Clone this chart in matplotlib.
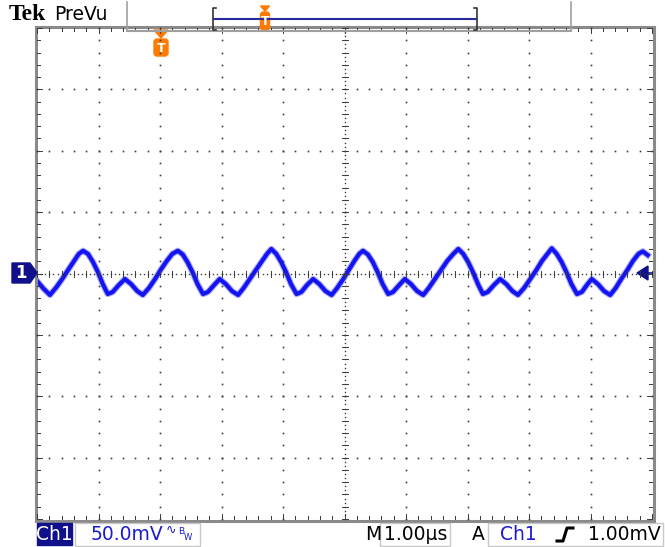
import numpy as np
import matplotlib
matplotlib.use("Agg")
import matplotlib.pyplot as plt
from matplotlib.patches import Rectangle, Polygon, FancyBboxPatch

# ---------------- data (time in µs, voltage in mV) ----------------
trace_t = [0.00, 0.10, 0.21, 0.31, 0.41, 0.50, 0.60, 0.68,
           0.75, 0.83, 0.91, 0.99, 1.07, 1.15, 1.23, 1.33, 1.43, 1.53, 1.63, 1.72, 1.82, 1.92, 2.01, 2.11, 2.20,
           2.29, 2.37, 2.45, 2.53, 2.61, 2.70, 2.78, 2.88, 2.97, 3.07, 3.17, 3.27, 3.36, 3.46, 3.56, 3.66, 3.74,
           3.81, 3.89, 3.97, 4.05, 4.13, 4.22, 4.30, 4.39, 4.49, 4.59, 4.69, 4.79, 4.88, 4.98, 5.07, 5.16, 5.24,
           5.30, 5.38, 5.46, 5.54, 5.62, 5.71, 5.79, 5.89, 5.98, 6.08, 6.18, 6.28, 6.37, 6.47, 6.57, 6.67, 6.77,
           6.85, 6.93, 7.01, 7.09, 7.17, 7.25, 7.33, 7.43, 7.53, 7.63, 7.73, 7.82, 7.92, 8.02, 8.12, 8.21, 8.30,
           8.37, 8.45, 8.53, 8.61, 8.69, 8.78, 8.86, 8.94, 9.02, 9.12, 9.22, 9.32, 9.41, 9.50, 9.60, 9.69, 9.78,
           9.85, 9.93]
trace_mv = [-6.0, -12.0, -17.5, -11.5, -4.5, 2.5, 10.0, 16.0,
            18.5, 15.9, 9.4, 1.2, -8.6, -16.7, -15.1, -9.4, -4.5, -8.6, -14.3, -17.5, -11.8, -4.5, 2.9, 10.2, 16.0,
            18.5, 15.5, 9.0, 1.0, -8.6, -16.7, -15.0, -9.4, -4.5, -8.6, -14.3, -17.5, -11.8, -4.5, 2.9, 10.2, 16.0,
            20.0, 16.0, 9.4, 1.0, -8.6, -16.7, -15.0, -9.4, -4.5, -8.6, -14.3, -17.5, -11.8, -4.5, 2.9, 10.2, 16.0,
            18.5, 15.5, 9.4, 1.0, -8.6, -16.7, -15.0, -9.4, -4.5, -8.6, -14.3, -17.5, -11.8, -4.5, 2.9, 10.2, 16.0,
            20.0, 16.0, 9.4, 1.0, -8.6, -16.7, -15.0, -9.4, -4.5, -8.6, -14.3, -17.5, -11.8, -4.5, 2.9, 10.2, 16.0,
            20.5, 16.0, 9.4, 1.0, -8.6, -16.7, -15.0, -9.4, -4.5, -8.6, -14.3, -17.5, -11.8, -4.5, 2.9, 10.2, 16.0,
            18.0, 15.0]

brand = "Tek"
mode_label = "PreVu"
ch_label = "Ch1"
volts_div = "50.0mV"
time_div = "1.00µs"
trig_src = "Ch1"
trig_level = "1.00mV"

# ---------------- geometry ----------------
W, H = 665, 547
L, R, T, B = 37, 652, 28, 519      # graticule in pixels
NX, NY = 10, 8
XMAX, YHALF = 10.0, 200.0

fig = plt.figure(figsize=(W / 100, H / 100), dpi=100)
fig.patch.set_facecolor("white")

ax = fig.add_axes([L / W, 1 - B / H, (R - L) / W, (B - T) / H])
ax.set_xlim(0, XMAX)
ax.set_ylim(-YHALF, YHALF)
ax.axis("off")

ov = fig.add_axes([0, 0, 1, 1], zorder=5)
ov.set_xlim(0, W)
ov.set_ylim(H, 0)
ov.axis("off")
ov.patch.set_alpha(0)

dx = (R - L) / NX
dy = (B - T) / NY
dot = "#3a3a3a"

def px(xdiv):
    return L + xdiv * dx

def py(ydiv):
    return T + ydiv * dy

# grid dots along major lines
for i in range(1, NX):
    if i == NX // 2:
        continue
    ys = np.arange(0, NY + 0.001, 0.2)
    ov.plot([px(i)] * len(ys), [py(y) for y in ys], ls="none", marker="s", ms=1.2, color=dot, mew=0)
for j in range(1, NY):
    if j == NY // 2:
        continue
    xs = np.arange(0, NX + 0.001, 0.2)
    ov.plot([px(x) for x in xs], [py(j)] * len(xs), ls="none", marker="s", ms=1.2, color=dot, mew=0)

# center cross: dense dots + minor ticks
xs = np.arange(0, NX + 0.001, 0.2 / 3)
ov.plot([px(x) for x in xs], [py(NY / 2)] * len(xs), ls="none", marker="s", ms=1.0, color=dot, mew=0)
ys = np.arange(0, NY + 0.001, 0.2 / 3)
ov.plot([px(NX / 2)] * len(ys), [py(y) for y in ys], ls="none", marker="s", ms=1.0, color=dot, mew=0)
for x in np.arange(0, NX + 0.001, 0.2):
    ov.plot([px(x), px(x)], [py(NY / 2) - 3, py(NY / 2) + 3], color=dot, lw=0.7)
for y in np.arange(0, NY + 0.001, 0.2):
    ov.plot([px(NX / 2) - 3, px(NX / 2) + 3], [py(y), py(y)], color=dot, lw=0.7)

# edge ruler ticks
for x in np.arange(0, NX + 0.001, 0.2):
    ln = 5 if abs(x - round(x)) < 1e-6 else 3
    ov.plot([px(x), px(x)], [T, T + ln], color=dot, lw=0.7)
    ov.plot([px(x), px(x)], [B, B - ln], color=dot, lw=0.7)
for y in np.arange(0, NY + 0.001, 0.2):
    ln = 5 if abs(y - round(y)) < 1e-6 else 3
    ov.plot([L, L + ln], [py(y), py(y)], color=dot, lw=0.7)
    ov.plot([R, R - ln], [py(y), py(y)], color=dot, lw=0.7)

# border
ov.add_patch(Rectangle((L - 1.5, T - 1.5), R - L + 3, B - T + 3, fill=False,
                       edgecolor="#8a8a8a", lw=2.2))

# trace
ax.plot(trace_t, trace_mv, color="#4a4aff", lw=4.6, alpha=0.45, solid_joinstyle="round", zorder=3)
ax.plot(trace_t, trace_mv, color="#1414f0", lw=3.0, solid_joinstyle="round", zorder=4)

# ---------- markers ----------
navy = "#10108c"
orange = "#ff7a00"
# channel 1 ground marker
ov.add_patch(Polygon([[12, 263], [30, 263], [37, 273], [30, 283], [12, 283]], closed=True,
                     facecolor=navy, edgecolor=navy))
ov.text(21, 273.5, "1", color="white", fontsize=12, fontweight="bold", ha="center", va="center",
        family="DejaVu Sans")
# trigger level marker (right)
ov.add_patch(Polygon([[637, 273], [648, 266], [648, 280]], closed=True, facecolor=navy, edgecolor=navy))
ov.plot([644, 652], [273, 273], color=navy, lw=1.2)

def trig_marker(xc, ytop, ysh0, ysh1, wid):
    ov.add_patch(Polygon([[xc - wid / 2, ytop], [xc + wid / 2, ytop], [xc, ysh0 - 1]], closed=True,
                         facecolor=orange, edgecolor=orange))
    ov.add_patch(FancyBboxPatch((xc - wid / 2, ysh0), wid, ysh1 - ysh0,
                                boxstyle="round,pad=0,rounding_size=3", facecolor=orange, edgecolor=orange))
    ov.text(xc, (ysh0 + ysh1) / 2 + 0.5, "T", color="white", fontsize=9, fontweight="bold",
            ha="center", va="center", family="DejaVu Sans")

trig_marker(161, 30, 39, 56, 14)

# ---------- top bar ----------
ov.text(9, 15, brand, fontsize=17, fontweight="bold", family="Liberation Serif",
        ha="left", va="center", color="black")
ov.text(54, 14, mode_label, fontsize=13.5, family="DejaVu Sans", ha="left", va="center", color="black")
ov.plot([127, 127], [2, 31], color="#a0a0a0", lw=1.2)
ov.plot([571, 571], [2, 31], color="#a0a0a0", lw=1.2)
ov.plot([127, 571], [30.5, 30.5], color="#a0a0a0", lw=1.5)
# record view
ov.plot([216, 213, 213, 216], [8, 8, 30, 30], color="#333333", lw=1.2)
ov.plot([474, 477, 477, 474], [8, 8, 30, 30], color="#333333", lw=1.2)
ov.plot([214, 476], [19, 19], color="#2a2a9a", lw=1.5)
trig_marker(265, 6, 12, 30, 9)

# ---------- bottom bar ----------
FS = 13.5
ov.add_patch(Rectangle((37, 523), 35, 22, facecolor=navy, edgecolor=navy))
ov.text(54.5, 534.5, ch_label, color="white", fontsize=FS, family="DejaVu Sans",
        ha="center", va="center")
ov.add_patch(Rectangle((75, 522.5), 125, 23, facecolor="none", edgecolor="#c8c8c8", lw=1))
ov.text(91, 534.5, volts_div, color="#1a1ad0", fontsize=FS, family="DejaVu Sans",
        ha="left", va="center")
ov.text(166, 530, "∿", color="#1a1ad0", fontsize=9, family="DejaVu Sans", ha="left", va="center")
ov.text(178, 531, "B", color="#1a1ad0", fontsize=6.5, family="DejaVu Sans", ha="left", va="center")
ov.text(184, 538, "W", color="#1a1ad0", fontsize=6, family="DejaVu Sans", ha="left", va="center")

ov.text(365, 534.5, "M", color="black", fontsize=FS, family="DejaVu Sans", ha="left", va="center")
ov.add_patch(Rectangle((380, 522.5), 70, 23, facecolor="none", edgecolor="#c8c8c8", lw=1))
ov.text(384, 534.5, time_div, color="black", fontsize=FS, family="DejaVu Sans", ha="left", va="center")

ov.text(472, 534.5, "A", color="black", fontsize=FS, family="DejaVu Sans", ha="left", va="center")
ov.add_patch(Rectangle((488, 522.5), 175, 23, facecolor="none", edgecolor="#c8c8c8", lw=1))
ov.text(500, 534.5, trig_src, color="#1a1ad0", fontsize=FS, family="DejaVu Sans", ha="left", va="center")
ov.plot([557, 563, 567, 573], [541, 541, 528, 528], color="black", lw=2.2)
ov.text(661, 534.5, trig_level, color="black", fontsize=FS, family="DejaVu Sans", ha="right", va="center")

fig.savefig("out.png", dpi=100, facecolor="white")
